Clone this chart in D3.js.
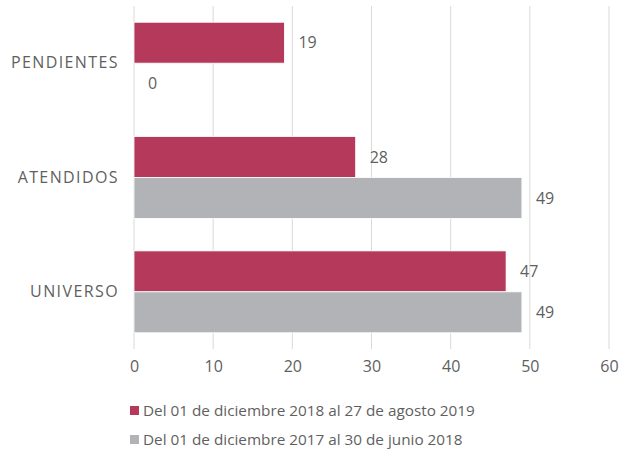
<!DOCTYPE html>
<html>
<head>
<meta charset="utf-8">
<script src="https://cdn.jsdelivr.net/npm/d3@7"></script>
<style>
  body { margin: 0; background: #fff; }
  text { font-family: "Open Sans", sans-serif; fill: #5f5f5f; }
</style>
</head>
<body>
<svg id="chart" width="620" height="453"></svg>
<script>
// categories top to bottom, two periods
var categories = ["PENDIENTES", "ATENDIDOS", "UNIVERSO"];
var series = ["2019", "2018"];
var seriesNames = ["Del 01 de diciembre 2018 al 27 de agosto 2019",
                   "Del 01 de diciembre 2017 al 30 de junio 2018"];
var values2019 = [19, 28, 47];
var values2018 = [0, 49, 49];
var xTicks = [0, 10, 20, 30, 40, 50, 60];
var colors = ["#b5395b", "#b1b3b6"];

var svg = d3.select("#chart");
var plotLeft = 134, plotRight = 609, plotTop = 6, plotBottom = 349;

var x = d3.scaleLinear().domain([0, 60]).range([plotLeft, plotRight]);
var y = d3.scaleBand().domain(categories).range([plotTop, plotBottom])
  .paddingInner(0.284).paddingOuter(0.142);
var y1 = d3.scaleBand().domain(series).range([0, y.bandwidth()]);

// gridlines
svg.append("g")
  .selectAll("line")
  .data(xTicks)
  .join("line")
    .attr("x1", function (d) { return x(d); })
    .attr("x2", function (d) { return x(d); })
    .attr("y1", plotTop)
    .attr("y2", plotBottom)
    .attr("stroke", "#d9d9d9")
    .attr("stroke-width", 1);

// x axis labels
var xAxis = svg.append("g")
  .attr("transform", "translate(0," + plotBottom + ")")
  .call(d3.axisBottom(x).tickValues(xTicks).tickSize(0).tickPadding(12));
xAxis.select(".domain").remove();
xAxis.selectAll("text").style("font-size", "16px").style("fill", "#5f5f5f")
  .style("font-family", "'Open Sans', sans-serif");

// y axis labels
var yAxis = svg.append("g")
  .attr("transform", "translate(" + plotLeft + ",0)")
  .call(d3.axisLeft(y).tickSize(0).tickPadding(15));
yAxis.select(".domain").remove();
yAxis.selectAll("text").style("font-size", "16px").style("fill", "#5f5f5f")
  .style("letter-spacing", "1.4px")
  .style("font-family", "'Open Sans', sans-serif");

var rows = [];
categories.forEach(function (c, i) {
  rows.push({cat: c, s: "2019", v: values2019[i], color: colors[0]});
  rows.push({cat: c, s: "2018", v: values2018[i], color: colors[1]});
});

svg.append("g")
  .selectAll("rect")
  .data(rows.filter(function (r) { return r.v > 0; }))
  .join("rect")
    .attr("x", x(0))
    .attr("y", function (r) { return y(r.cat) + y1(r.s); })
    .attr("width", function (r) { return x(r.v) - x(0); })
    .attr("height", y1.bandwidth())
    .attr("fill", function (r) { return r.color; })
    .attr("stroke", "#fff")
    .attr("stroke-width", 0.8);

svg.append("g")
  .selectAll("text")
  .data(rows)
  .join("text")
    .attr("x", function (r) { return x(r.v) + 14; })
    .attr("y", function (r) { return y(r.cat) + y1(r.s) + y1.bandwidth() / 2; })
    .attr("dy", "0.35em")
    .style("font-size", "16px")
    .text(function (r) { return r.v; });

// legend
var legend = svg.append("g")
  .selectAll("g")
  .data(seriesNames)
  .join("g")
    .attr("transform", function (d, i) { return "translate(130," + (411 + i * 29) + ")"; });
legend.append("rect")
  .attr("x", 0).attr("y", -5)
  .attr("width", 9).attr("height", 9)
  .attr("fill", function (d, i) { return colors[i]; });
legend.append("text")
  .attr("x", 13)
  .attr("dy", "0.35em")
  .style("font-size", "15.3px")
  .text(function (d) { return d; });
</script>
</body>
</html>
